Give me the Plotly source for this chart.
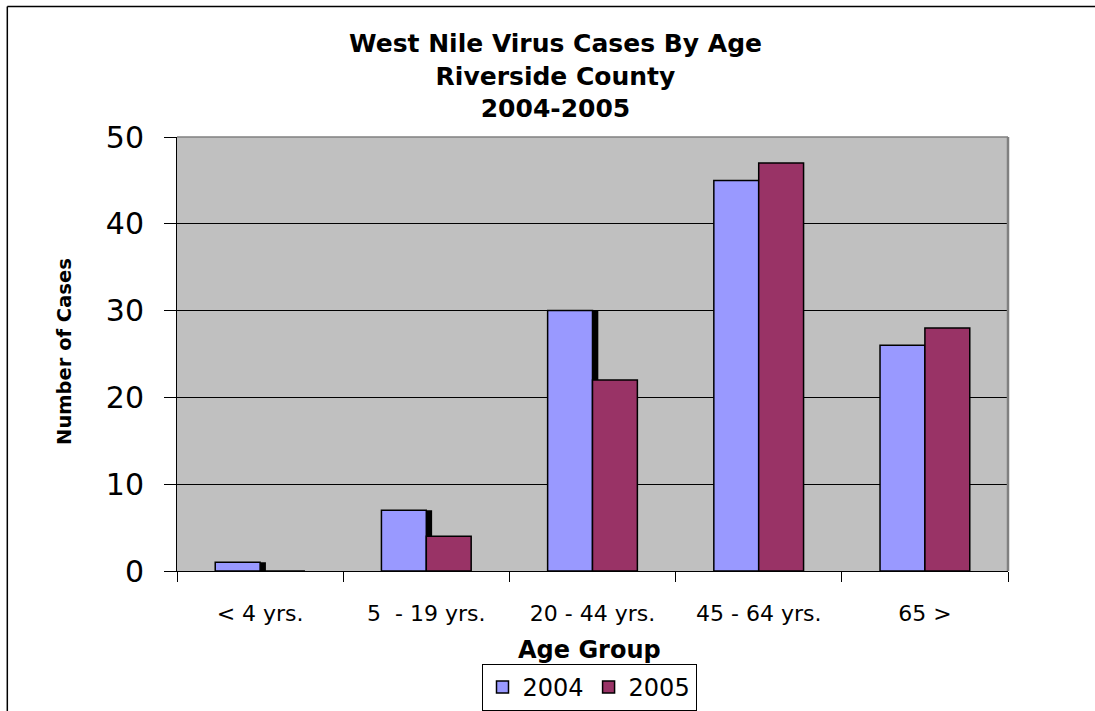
import plotly.graph_objects as go

categories = ["< 4 yrs.", "5  - 19 yrs.", "20 - 44 yrs.", "45 - 64 yrs.", "65 >"]
cases_2004 = [1, 7, 30, 45, 26]
cases_2005 = [0, 4, 22, 47, 28]
series_names = ["2004", "2005"]
y_ticks = [0, 10, 20, 30, 40, 50]

FONT = "DejaVu Sans, Liberation Sans, Arial, sans-serif"
BAR_W = 0.27

fig = go.Figure()
# drop shadow of 2004 bars
fig.add_trace(go.Bar(x=categories, y=cases_2004, width=BAR_W, offset=-BAR_W + 0.035,
                     marker=dict(color="black", line=dict(width=0)),
                     showlegend=False, hoverinfo="skip"))
fig.add_trace(go.Bar(x=categories, y=cases_2004, name=series_names[0], width=BAR_W, offset=-BAR_W,
                     marker=dict(color="#9999FF", line=dict(color="black", width=1.5))))
fig.add_trace(go.Bar(x=categories, y=cases_2005, name=series_names[1], width=BAR_W, offset=0,
                     marker=dict(color="#993366", line=dict(color="black", width=1.5))))

fig.update_layout(
    width=1095, height=711,
    margin=dict(l=177, r=87, t=137, b=140),
    paper_bgcolor="white", plot_bgcolor="#C0C0C0",
    barmode="overlay",
    font=dict(family=FONT, color="black"),
    showlegend=True,
    legend=dict(orientation="h", xref="container", yref="container",
                x=589 / 1095, y=1 - 664 / 711, xanchor="center", yanchor="top",
                bordercolor="black", borderwidth=1, bgcolor="white",
                font=dict(size=24, family=FONT), itemwidth=30, traceorder="normal"),
    xaxis=dict(showline=True, linecolor="black", linewidth=1, ticks="outside", tickson="boundaries",
               ticklen=10, tickcolor="black", tickfont=dict(size=22, family=FONT),
               ticklabelstandoff=23, showgrid=False, fixedrange=True),
    yaxis=dict(range=[0, 50], tickvals=y_ticks, showline=True, linecolor="black", linewidth=1,
               ticks="outside", ticklen=12, tickcolor="black", tickfont=dict(size=30, family=FONT),
               ticklabelstandoff=14, showgrid=True, gridcolor="black", gridwidth=1,
               zeroline=True, zerolinecolor="black", zerolinewidth=1),
    annotations=[
        dict(text="<b>West Nile Virus Cases By Age<br>Riverside County<br>2004-2005</b>",
             xref="paper", yref="paper", x=0.456, y=1.1406, xanchor="center", yanchor="middle",
             showarrow=False, font=dict(size=25, family=FONT)),
        dict(text="<b>Age Group</b>", xref="paper", yref="paper", x=0.496, y=-0.182,
             xanchor="center", yanchor="middle", showarrow=False, font=dict(size=24, family=FONT)),
        dict(text="<b>Number of Cases</b>", xref="paper", yref="paper", x=-0.1348, y=0.507,
             xanchor="center", yanchor="middle", textangle=-90, showarrow=False,
             font=dict(size=19.5, family=FONT)),
    ],
    shapes=[
        dict(type="line", xref="paper", yref="paper", x0=0, x1=1, y0=1, y1=1,
             line=dict(color="#808080", width=1.5)),
        dict(type="line", xref="paper", yref="paper", x0=1, x1=1, y0=0, y1=1,
             line=dict(color="#808080", width=2.5)),
        dict(type="line", xref="paper", yref="paper", x0=-0.2042, x1=1.2, y0=1.3007, y1=1.3007,
             line=dict(color="black", width=1.5)),
        dict(type="line", xref="paper", yref="paper", x0=-0.2042, x1=-0.2042, y0=-0.4, y1=1.3007,
             line=dict(color="black", width=1.5)),
    ],
)

fig.write_html("out.html", config={"displayModeBar": False},
               post_script="document.body.style.margin='0';document.body.style.overflow='hidden';")
